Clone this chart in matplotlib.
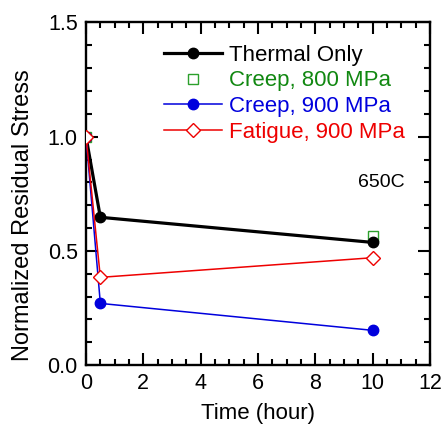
import matplotlib.pyplot as plt
from matplotlib.ticker import MultipleLocator

plt.rcParams['font.family'] = ['Liberation Sans', 'DejaVu Sans']

# residual stress data, normalized to the as-built value
thermal_t = [0, 0.5, 10]
thermal_s = [1.0, 0.647, 0.537]

creep800_t = [0, 10]
creep800_s = [1.0, 0.565]

creep900_t = [0, 0.5, 10]
creep900_s = [1.0, 0.270, 0.152]

fatigue_t = [0, 0.5, 10]
fatigue_s = [1.0, 0.384, 0.470]

fig = plt.figure(figsize=(4.42, 4.24), dpi=100)
ax = fig.add_axes([0.1946, 0.139, 0.7784, 0.808])

ax.plot(thermal_t, thermal_s, color='black', lw=2.3, marker='o', ms=7.5,
        label='Thermal Only', zorder=3)
ax.plot(creep800_t, creep800_s, ls='none', marker='s', ms=6.5, mfc='white',
        mec='#2ca02c', mew=1.0, color='#118811', label='Creep, 800 MPa', zorder=2)
ax.plot(creep900_t, creep900_s, color='#0000dd', lw=1.1, marker='o', ms=7.5,
        label='Creep, 900 MPa', zorder=3)
ax.plot(fatigue_t, fatigue_s, color='#ee0000', lw=1.1, marker='D', ms=7.5,
        mfc='white', mew=1.0, label='Fatigue, 900 MPa', zorder=4)

ax.text(9.5, 0.80, '650C', fontsize=14, ha='left', va='center')

ax.set_xlim(0, 12)
ax.set_ylim(0, 1.5)
ax.xaxis.set_major_locator(MultipleLocator(2))
ax.xaxis.set_minor_locator(MultipleLocator(0.5))
ax.yaxis.set_major_locator(MultipleLocator(0.5))
ax.yaxis.set_minor_locator(MultipleLocator(0.1))
ax.yaxis.set_major_formatter(lambda v, p: f'{v:.1f}')

ax.tick_params(which='both', direction='in', top=True, right=True,
               width=1.5, labelsize=15.5)
ax.tick_params(which='major', length=8.5, pad=6)
ax.tick_params(which='minor', length=4.3)
for sp in ax.spines.values():
    sp.set_linewidth(1.7)

ax.set_xlabel('Time (hour)', fontsize=16, labelpad=6)
ax.set_ylabel('Normalized Residual Stress', fontsize=17)
ax.yaxis.set_label_coords(-0.15, 0.438)

leg = ax.legend(loc='upper left', bbox_to_anchor=(0.227, 0.935), frameon=False,
                fontsize=16, handlelength=2.6, handletextpad=0.3,
                labelspacing=0.21, borderaxespad=0, borderpad=0)
for txt, line in zip(leg.get_texts(), leg.get_lines()):
    txt.set_color(line.get_color())

fig.savefig('out.png', dpi=100)
